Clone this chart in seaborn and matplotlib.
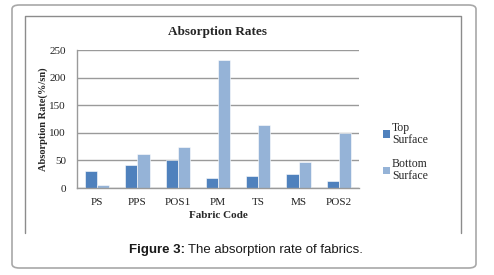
import numpy as np
import pandas as pd
import seaborn as sns
import matplotlib.pyplot as plt
from matplotlib.patches import FancyBboxPatch, Patch
from matplotlib.lines import Line2D

# data
fabrics = ["PS", "PPS", "POS1", "PM", "TS", "MS", "POS2"]
top_surface = [31, 41, 50, 18, 22, 26, 13]
bottom_surface = [5, 61, 74, 232, 114, 47, 100]
series_names = ["Top Surface", "Bottom Surface"]
y_ticks = [0, 50, 100, 150, 200, 250]

colors = ["#4F81BD", "#95B3D7"]

df = pd.DataFrame({"Fabric": fabrics, "Top Surface": top_surface, "Bottom Surface": bottom_surface})
df = df.melt(id_vars="Fabric", var_name="Surface", value_name="Rate")

sns.set_style("white")
plt.rcParams["font.family"] = ["Liberation Serif", "DejaVu Serif"]

fig = plt.figure(figsize=(4.94, 2.75), dpi=100)
ax = fig.add_axes([77 / 494, 1 - 188 / 275, 282 / 494, 138 / 275])

sns.barplot(data=df, x="Fabric", y="Rate", hue="Surface", hue_order=series_names,
            palette=colors, width=0.6, ax=ax, legend=False, saturation=1,
            edgecolor="white", linewidth=0.4)

ax.set_ylim(0, 250)
ax.set_xlim(-0.5, len(fabrics) - 0.5)
ax.set_yticks(y_ticks)
ax.set_yticklabels([str(t) for t in y_ticks], fontsize=8, color="#222222")
ax.yaxis.grid(True, color="#9a9a9a", linewidth=1)
ax.set_axisbelow(True)

ax.set_xticks(np.arange(len(fabrics)))
ax.set_xticklabels(fabrics, fontsize=8, color="#222222")
ax.set_xticks(np.arange(len(fabrics) + 1) - 0.5, minor=True)
ax.tick_params(axis="x", which="major", length=0, pad=7)
ax.tick_params(axis="x", which="minor", length=4, color="#9a9a9a", width=1)
ax.tick_params(axis="y", length=4, color="#9a9a9a", width=1, pad=4)

for side in ["top", "right"]:
    ax.spines[side].set_visible(False)
for side in ["left", "bottom"]:
    ax.spines[side].set_color("#9a9a9a")
    ax.spines[side].set_linewidth(1)

ax.set_xlabel("Fabric Code", fontsize=8, fontweight="bold", labelpad=3)
ax.set_ylabel("Absorption Rate(%/sn)", fontsize=7.5, fontweight="bold", labelpad=1)
ax.set_title("Absorption Rates", fontsize=9.5, fontweight="bold", pad=11)

handles = [Patch(facecolor=c, edgecolor="none") for c in colors]
leg = fig.legend(handles, ["Top\nSurface", "Bottom\nSurface"], loc="center left",
                 bbox_to_anchor=(372 / 494, 1 - 152 / 275), frameon=False, fontsize=8.5,
                 handlelength=0.6, handleheight=0.6, handletextpad=0.2, labelspacing=1.1)
for t in leg.get_texts():
    t.set_linespacing(0.95)

# outer rounded frame and inner chart frame
outer = FancyBboxPatch((12 / 494, 1 - 268 / 275), 464 / 494, 263 / 275,
                       boxstyle="round,pad=0,rounding_size=0.015",
                       transform=fig.transFigure, fill=False, edgecolor="#a8a8a8", linewidth=1.2)
fig.patches.append(outer)
x0, x1 = 25 / 494, 461 / 494
y_top, y_bot = 1 - 16 / 275, 1 - 233 / 275
fig.add_artist(Line2D([x0, x0, x1, x1], [y_bot, y_top, y_top, y_bot],
                      transform=fig.transFigure, color="#8c8c8c", linewidth=1))

fig.text(185 / 494, 1 - 250 / 275, "Figure 3:", ha="right", va="center", fontsize=9.5,
         fontweight="bold", family=["Liberation Sans", "DejaVu Sans"], color="#1a1a1a")
fig.text(188 / 494, 1 - 250 / 275, "The absorption rate of fabrics.", ha="left", va="center",
         fontsize=9.5, family=["Liberation Sans", "DejaVu Sans"], color="#1a1a1a")

fig.savefig("out.png", dpi=100)
